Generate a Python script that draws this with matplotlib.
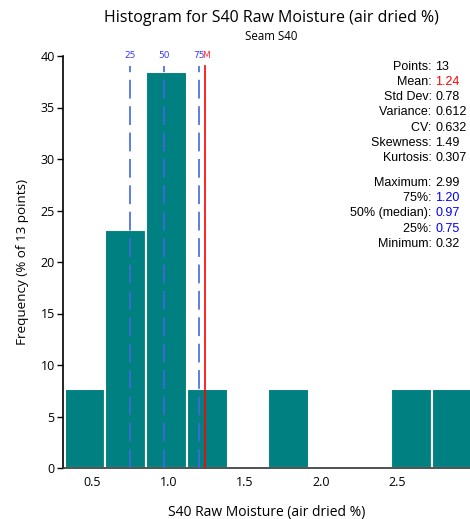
import numpy as np
import matplotlib
matplotlib.use("Agg")
import matplotlib.pyplot as plt

# Bin edges and frequencies (% of 13 points)
bin_edges = [0.32, 0.587, 0.854, 1.121, 1.388, 1.655, 1.922, 2.189, 2.456, 2.723, 2.99]
counts = [1, 3, 5, 1, 0, 1, 0, 0, 1, 1]
n_points = 13
freq_pct = [100.0 * c / n_points for c in counts]

# Summary statistics
q25, q50, q75 = 0.75, 0.97, 1.20
mean_val = 1.24
stats_labels = ["Points:", "Mean:", "Std Dev:", "Variance:", "CV:", "Skewness:", "Kurtosis:",
                None, "Maximum:", "75%:", "50% (median):", "25%:", "Minimum:"]
stats_values = ["13", "1.24", "0.78", "0.612", "0.632", "1.49", "0.307",
                None, "2.99", "1.20", "0.97", "0.75", "0.32"]
stats_colors = ["black", "red", "black", "black", "black", "black", "black",
                None, "black", "blue", "blue", "blue", "black"]

x_ticks = [0.5, 1.0, 1.5, 2.0, 2.5]
y_ticks = [0, 5, 10, 15, 20, 25, 30, 35, 40]

label_font = "Open Sans"
stat_font = "Liberation Sans"

fig = plt.figure(figsize=(4.70, 5.19), dpi=100)
ax = fig.add_axes([63 / 470, 1 - 468 / 519, 1 - 63 / 470, (468 - 56) / 519])

lefts = bin_edges[:-1]
widths = np.diff(bin_edges)
ax.bar(lefts, freq_pct, width=widths, align="edge", color="#008080",
       edgecolor="white", linewidth=1.5, zorder=2)

# Quartile and mean markers
line_top = 39.0
lw = 1.2
for q, lab in [(q25, "25"), (q50, "50"), (q75, "75")]:
    ax.plot([q, q], [0, line_top], color="#4169E1", lw=lw,
            dashes=(13.5 / lw, 5.5 / lw), zorder=3)
    ax.text(q, 40, lab, color="#3b3bff", fontsize=6.5, ha="center", va="center",
            family="DejaVu Sans", zorder=4)
ax.plot([mean_val, mean_val], [0, line_top], color="red", lw=1.2, zorder=3)
ax.text(mean_val + 0.008, 40, "M", color="#ff3030", fontsize=6.5, ha="center", va="center",
        family="DejaVu Sans", zorder=4)

ax.set_xlim(bin_edges[0] - 0.01, bin_edges[-1] - 0.015)
ax.set_ylim(0, 40)
ax.set_xticks(x_ticks)
ax.set_xticklabels([f"{t:.1f}" for t in x_ticks], family=label_font, fontsize=9)
ax.set_yticks(y_ticks)
ax.set_yticklabels([str(t) for t in y_ticks], family=label_font, fontsize=9)
ax.tick_params(axis="y", direction="out", length=4, width=1, pad=2)
ax.tick_params(axis="x", length=0, pad=6)
for s in ["top", "right"]:
    ax.spines[s].set_visible(False)
ax.spines["left"].set_linewidth(1.2)
ax.spines["bottom"].set_linewidth(1.2)
ax.spines["bottom"].set_color("#333333")

ax.set_xlabel("S40 Raw Moisture (air dried %)", family=label_font, fontsize=10, labelpad=11)
ax.set_ylabel("Frequency (% of 13 points)", family=label_font, fontsize=9.7, labelpad=8)

fig.text(271 / 470, 1 - 18 / 519, "Histogram for S40 Raw Moisture (air dried %)",
         family=label_font, fontsize=11.5, ha="center", va="center")
fig.text(271 / 470, 1 - 37 / 519, "Seam S40", family=label_font, fontsize=8.3,
         ha="center", va="center")

# Statistics panel
x_colon = 435 / 470
y0 = 66.5
step = 15.3
row = 0
for lab, val, col in zip(stats_labels, stats_values, stats_colors):
    if lab is None:
        y0 += 9
        continue
    ypix = y0 + row * step
    fig.text(x_colon, 1 - ypix / 519, lab + " ", family=stat_font, fontsize=9,
             ha="right", va="center")
    fig.text(x_colon, 1 - ypix / 519, val, family=stat_font, fontsize=9,
             ha="left", va="center", color=col)
    row += 1

fig.savefig("out.png", dpi=100)
